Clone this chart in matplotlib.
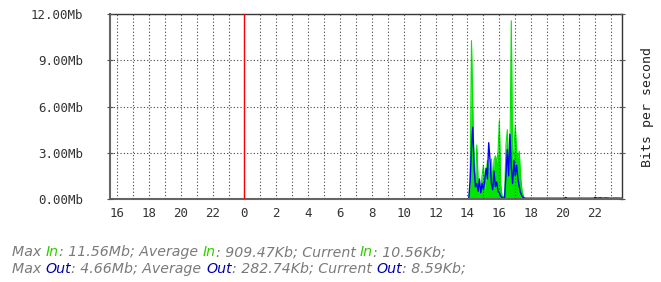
import numpy as np
import matplotlib.pyplot as plt

# 5 minute samples on the second day (time of day, Mb/s)
busy_times = ["14:05", "14:10", "14:15", "14:20", "14:25", "14:30", "14:35", "14:40",
              "14:45", "14:50", "14:55", "15:00", "15:05", "15:10", "15:15", "15:20",
              "15:25", "15:30", "15:35", "15:40", "15:45", "15:50", "15:55", "16:00",
              "16:05", "16:10", "16:15", "16:20", "16:25", "16:30", "16:35", "16:40",
              "16:45", "16:50", "16:55", "17:00", "17:05", "17:10", "17:15", "17:20",
              "17:25", "17:30", "17:35"]
busy_in = [0.0, 1.0, 10.27, 6.0, 2.0, 1.0, 3.5, 1.2,
           0.8, 0.6, 1.5, 2.2, 0.5, 1.5, 2.5, 1.8,
           2.0, 2.6, 1.0, 2.5, 2.8, 2.4, 3.0, 5.1,
           1.0, 0.2, 0.1, 0.3, 3.5, 4.5, 2.0, 3.0,
           11.56, 2.5, 3.2, 4.8, 3.0, 2.7, 3.1, 1.5,
           0.6, 0.2, 0.05]
busy_out = [0.0, 1.2, 3.3, 4.66, 2.0, 0.8, 1.0, 0.5,
            1.3, 0.4, 1.0, 0.6, 1.2, 2.0, 1.3, 3.65,
            2.5, 1.0, 0.6, 1.8, 0.8, 1.1, 0.5, 0.4,
            0.2, 0.1, 0.05, 0.1, 1.6, 3.2, 1.5, 4.2,
            2.0, 1.0, 2.5, 1.5, 2.2, 1.3, 0.8, 0.4,
            0.2, 0.1, 0.05]

quiet_times = ["17:45", "18:30", "19:30", "20:05", "20:10", "20:15", "21:00", "21:55",
               "22:00", "22:10", "22:20", "22:30", "22:40", "23:00", "23:20", "23:40"]
quiet_in = [0.01, 0.01, 0.01, 0.02, 0.08, 0.02, 0.01, 0.01,
            0.12, 0.06, 0.10, 0.05, 0.09, 0.03, 0.04, 0.02]
quiet_out = [0.05, 0.05, 0.05, 0.05, 0.10, 0.05, 0.05, 0.05,
             0.09, 0.05, 0.07, 0.05, 0.06, 0.05, 0.06, 0.05]

x_ticks = list(range(16, 48, 2))
y_ticks = [0, 3, 6, 9, 12]
y_labels = ["0.00Mb", "3.00Mb", "6.00Mb", "9.00Mb", "12.00Mb"]

stats = [[("Max ", 0), ("In", 1), (": 11.56Mb; Average ", 0), ("In", 1),
          (": 909.47Kb; Current ", 0), ("In", 1), (": 10.56Kb;", 0)],
         [("Max ", 0), ("Out", 2), (": 4.66Mb; Average ", 0), ("Out", 2),
          (": 282.74Kb; Current ", 0), ("Out", 2), (": 8.59Kb;", 0)]]


def to_hours(t):
    h, m = t.split(":")
    return 24 + int(h) + int(m) / 60.0


t = np.array([to_hours(s) for s in busy_times + quiet_times])
v_in = np.array(busy_in + quiet_in)
v_out = np.array(busy_out + quiet_out)

fig = plt.figure(figsize=(6.61, 2.82), dpi=100)
ax = fig.add_axes([110 / 661, 83 / 282, 512 / 661, 185 / 282])
ax.set_xlim(15.56, 47.70)
ax.set_ylim(0, 12)

ax.fill_between(t, 0, v_in, color="#00e600", lw=0, zorder=1)
ax.plot(t, v_in, color="#00e600", lw=0.8, zorder=1)
ax.plot(t, v_out, color="#0000ff", lw=1.0, zorder=2)
ax.axvline(24, color="red", lw=1.0, zorder=4)

ax.set_xticks(x_ticks)
ax.set_xticklabels([str(h % 24) for h in x_ticks])
ax.set_xticks(range(16, 48), minor=True)
ax.set_yticks(y_ticks)
ax.set_yticklabels(y_labels)

ax.set_axisbelow(False)
ax.grid(True, which="both", axis="x", color="#444444", lw=0.8, ls=(0, (1, 2)))
ax.grid(True, which="major", axis="y", color="#444444", lw=0.8, ls=(0, (1, 2)))

ax.tick_params(axis="x", which="both", length=0, pad=6, labelsize=9,
               labelcolor="#333333")
ax.tick_params(axis="y", direction="inout", length=5, color="#555555",
               right=True, pad=17, labelsize=9, labelcolor="#333333")
for lab in ax.get_xticklabels() + ax.get_yticklabels():
    lab.set_family("DejaVu Sans Mono")

for side in ["top", "right"]:
    ax.spines[side].set_color("#333333")
    ax.spines[side].set_linewidth(1.0)
for side in ["left", "bottom"]:
    ax.spines[side].set_color("#666666")
    ax.spines[side].set_linewidth(1.5)

fig.text(648 / 661, 1 - 107 / 282, "Bits per second", rotation=90,
         ha="center", va="center", fontsize=9.5, family="DejaVu Sans Mono",
         color="#222222")

# stats lines under the graph, coloured words placed one after another
fig.canvas.draw()
rend = fig.canvas.get_renderer()
colors = ["#7a7a7a", "#33cc00", "#0000aa"]
for row, y_pix in zip(stats, [256, 273]):
    x_pix = 12
    for txt, c in row:
        tt = fig.text(x_pix / 661, 1 - y_pix / 282, txt, fontsize=10.2,
                      style="italic", color=colors[c], va="baseline")
        x_pix += tt.get_window_extent(rend).width

fig.savefig("out.png", dpi=100)
